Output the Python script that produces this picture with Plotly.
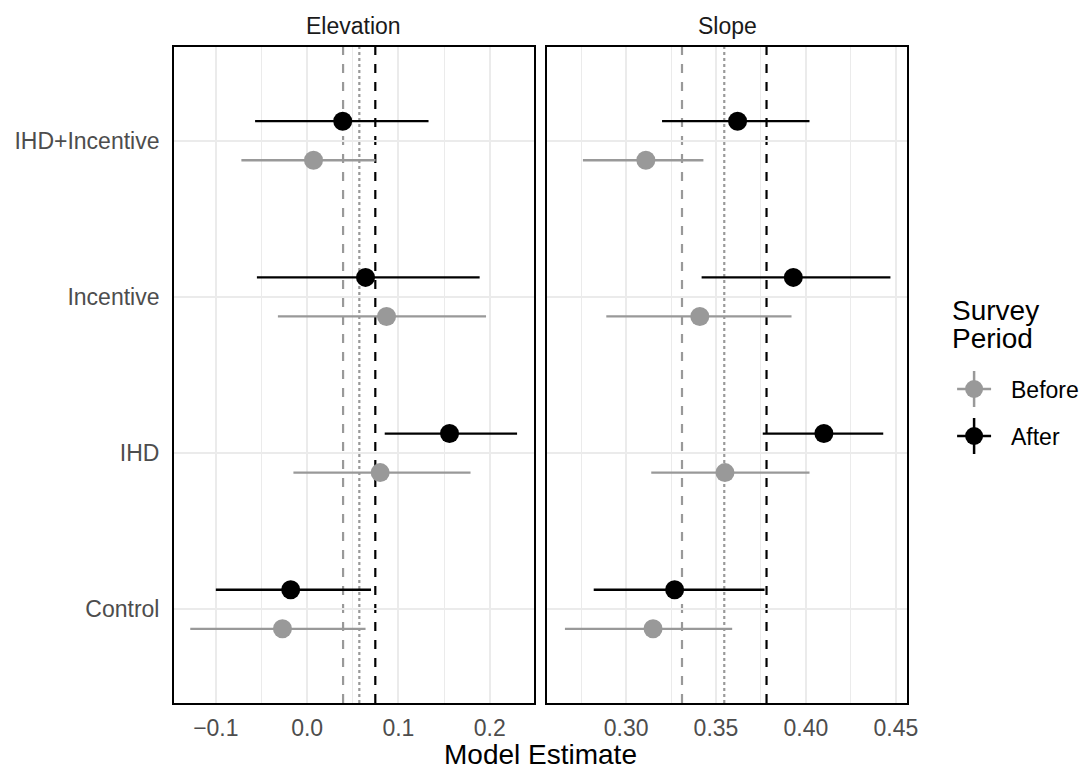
import plotly.graph_objects as go

W, H = 1085, 772
WX = 1075  # effective horizontal pixel scale used for paper fractions

categories = ["Control", "IHD", "Incentive", "IHD+Incentive"]
periods = ["Before", "After"]

# Elevation estimates (order follows categories)
elev_before = [-0.027, 0.080, 0.087, 0.007]
elev_before_lo = [-0.128, -0.015, -0.032, -0.072]
elev_before_hi = [0.064, 0.179, 0.196, 0.075]
elev_after = [-0.018, 0.156, 0.064, 0.039]
elev_after_lo = [-0.100, 0.085, -0.055, -0.057]
elev_after_hi = [0.070, 0.230, 0.189, 0.133]

# Slope estimates
slope_before = [0.315, 0.355, 0.341, 0.311]
slope_before_lo = [0.266, 0.314, 0.289, 0.276]
slope_before_hi = [0.359, 0.402, 0.392, 0.343]
slope_after = [0.327, 0.410, 0.393, 0.362]
slope_after_lo = [0.282, 0.376, 0.342, 0.320]
slope_after_hi = [0.377, 0.443, 0.447, 0.402]

# Reference lines: [before mean (dashed gray), overall (dotted gray), after mean (dashed black)]
elev_ref = [0.0394, 0.0572, 0.0747]
slope_ref = [0.3311, 0.3546, 0.3781]

elev_ticks = [-0.1, 0.0, 0.1, 0.2]
elev_ticktext = ["\u22120.1", "0.0", "0.1", "0.2"]
slope_ticks = [0.30, 0.35, 0.40, 0.45]
slope_ticktext = ["0.30", "0.35", "0.40", "0.45"]

GRAY = "#999999"
BLACK = "#000000"
FONT = "Liberation Sans, Arial, sans-serif"
dodge = {"Before": -0.125, "After": 0.125}
colors = {"Before": GRAY, "After": BLACK}

fig = go.Figure()

def add_series(xaxis, yaxis, est, lo, hi, period):
    ys = [i + 1 + dodge[period] for i in range(len(categories))]
    fig.add_trace(go.Scatter(
        x=est, y=ys, mode="markers", xaxis=xaxis, yaxis=yaxis,
        marker=dict(color=colors[period], size=19),
        error_x=dict(type="data", symmetric=False,
                     array=[h - e for h, e in zip(hi, est)],
                     arrayminus=[e - l for e, l in zip(est, lo)],
                     color=colors[period], thickness=2.3, width=0),
        showlegend=False, name=period, hoverinfo="x+name"))

add_series("x", "y", elev_before, elev_before_lo, elev_before_hi, "Before")
add_series("x", "y", elev_after, elev_after_lo, elev_after_hi, "After")
add_series("x2", "y2", slope_before, slope_before_lo, slope_before_hi, "Before")
add_series("x2", "y2", slope_after, slope_after_lo, slope_after_hi, "After")

styles = [(GRAY, "dash"), (GRAY, "dot"), (BLACK, "dash")]
for refs, xr, yr in [(elev_ref, "x", "y domain"), (slope_ref, "x2", "y2 domain")]:
    for v, (c, d) in zip(refs, styles):
        fig.add_shape(type="line", xref=xr, yref=yr, x0=v, x1=v, y0=0, y1=1,
                      line=dict(color=c, width=2.2, dash=d), layer="below")

ydom = [1 - 703 / H, 1 - 47 / H]
axis_common = dict(showline=True, mirror=True, linecolor="black", linewidth=1.5,
                   showgrid=True, gridcolor="#ebebeb", gridwidth=1.6, zeroline=False,
                   ticks="", tickfont=dict(size=23, color="#4d4d4d", family=FONT))

fig.update_layout(
    width=W, height=H, autosize=False, margin=dict(l=0, r=0, t=0, b=0),
    plot_bgcolor="white", paper_bgcolor="white",
    font=dict(family=FONT, color="#1a1a1a"),
    showlegend=False,
    xaxis=dict(domain=[174 / WX, 534 / WX], range=[-0.146, 0.248],
               tickvals=elev_ticks, ticktext=elev_ticktext,
               minor=dict(dtick=0.05, tick0=0, showgrid=True, gridcolor="#ebebeb", gridwidth=1.2),
               ticklabelstandoff=4, anchor="y", **axis_common),
    xaxis2=dict(domain=[548 / WX, 908 / WX], range=[0.2563, 0.4563],
                tickvals=slope_ticks, ticktext=slope_ticktext,
                minor=dict(dtick=0.025, tick0=0, showgrid=True, gridcolor="#ebebeb", gridwidth=1.2),
                ticklabelstandoff=4, anchor="y2", **axis_common),
    yaxis=dict(domain=ydom, range=[0.4, 4.6], tickvals=[1, 2, 3, 4], ticktext=categories,
               ticklabelstandoff=8, anchor="x", **axis_common),
    yaxis2=dict(domain=ydom, range=[0.4, 4.6], tickvals=[1, 2, 3, 4], showticklabels=False,
                anchor="x2", **axis_common),
)

def note(x, y, text, size, color="#000000", xanchor="center"):
    fig.add_annotation(x=x / WX, y=1 - y / H, xref="paper", yref="paper",
                       xanchor=xanchor, yanchor="middle", text=text, showarrow=False,
                       font=dict(size=size, color=color))

# Facet strip titles and axis title
note((174 + 534) / 2, 26, "Elevation", 23, "#1a1a1a")
note((548 + 908) / 2, 26, "Slope", 23, "#1a1a1a")
note((174 + 908) / 2, 754, "Model Estimate", 28)

# Custom legend
note(951, 310, "Survey", 28, xanchor="left")
note(951, 338, "Period", 28, xanchor="left")
for label, cy in [("Before", 389), ("After", 436)]:
    c = colors[label]
    cx = 975
    fig.add_shape(type="line", xref="paper", yref="paper", x0=(cx - 17) / WX, x1=(cx + 17) / WX,
                  y0=1 - cy / H, y1=1 - cy / H, line=dict(color=c, width=2.5))
    fig.add_shape(type="line", xref="paper", yref="paper", x0=cx / WX, x1=cx / WX,
                  y0=1 - (cy - 18) / H, y1=1 - (cy + 18) / H, line=dict(color=c, width=2.5))
    fig.add_shape(type="circle", xref="paper", yref="paper", x0=(cx - 9) / WX, x1=(cx + 9) / WX,
                  y0=1 - (cy + 9) / H, y1=1 - (cy - 9) / H, fillcolor=c, line=dict(color=c, width=0))
    note(1010, cy + 1, label, 23, xanchor="left")

fig.write_html("out.html", config={"responsive": False})
